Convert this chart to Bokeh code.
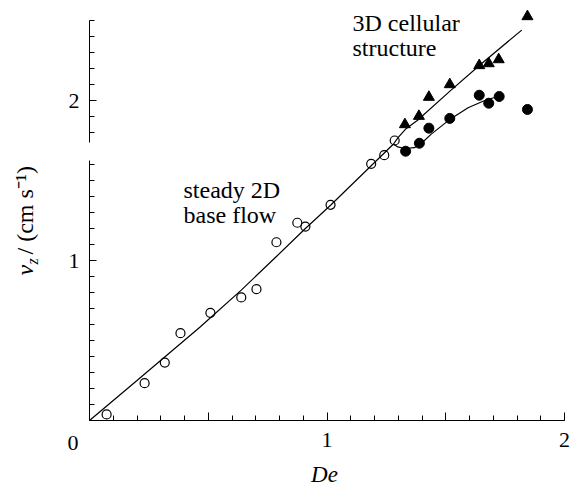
import math
from bokeh.plotting import figure
from bokeh.models import Range1d, FixedTicker, Label
from bokeh.embed import file_html
from bokeh.resources import INLINE

# ---------------- data ----------------
# steady 2D base flow (open circles)
open_x = [0.072, 0.232, 0.317, 0.383, 0.509, 0.639, 0.703, 0.787, 0.875, 0.909, 1.015, 1.186, 1.241, 1.285]
open_y = [0.038, 0.233, 0.362, 0.546, 0.673, 0.769, 0.821, 1.114, 1.236, 1.212, 1.348, 1.604, 1.658, 1.750]

# 3D cellular structure, filled circles
fill_x = [1.331, 1.389, 1.429, 1.517, 1.641, 1.681, 1.725, 1.844]
fill_y = [1.683, 1.733, 1.827, 1.888, 2.033, 1.983, 2.025, 1.944]

# 3D cellular structure, triangles
tri_x = [1.328, 1.387, 1.429, 1.517, 1.641, 1.681, 1.723, 1.844]
tri_y = [1.850, 1.902, 2.021, 2.100, 2.219, 2.231, 2.256, 2.525]

# fitted curves
base_curve_x = [0.0, 0.2, 0.467, 0.639, 0.787, 0.909, 1.015, 1.186, 1.28]
base_curve_y = [0.0, 0.25, 0.586, 0.815, 1.025, 1.200, 1.345, 1.592, 1.728]

tri_curve_x = [1.28, 1.30, 1.33, 1.38, 1.52, 1.65, 1.82]
tri_curve_y = [1.728, 1.77, 1.82, 1.875, 2.062, 2.23, 2.44]

fill_curve_x = [1.28, 1.298, 1.326, 1.368, 1.392, 1.439, 1.52, 1.594, 1.664, 1.729]
fill_curve_y = [1.728, 1.71, 1.70, 1.705, 1.725, 1.79, 1.885, 1.955, 2.0, 2.03]

# axes
x_major_ticks = [0, 0.5, 1, 1.5, 2]
x_tick_labels = {1: "1", 2: "2"}
x_minor_ticks = [round(0.1 * i, 1) for i in range(0, 21)]
y_major_ticks = [1, 2]
y_tick_labels = {1: "1", 2: "2"}
y_minor_ticks = [round(0.1 * i, 1) for i in range(1, 26) if i != 17]
y_spine_lower = (0.0, 1.625)
y_spine_upper = (1.7375, 2.5)

SERIF = "Liberation Serif"
TICK_FS = "22px"
TEXT_FS = "24px"

# frame covers the whole canvas; axes are pinned at x=0 / y=0
p = figure(width=572, height=487, output_backend="svg", toolbar_location=None,
           x_range=Range1d(-0.37474, 2.03368), y_range=Range1d(-0.41875, 2.625),
           min_border_left=0, min_border_right=0, min_border_top=0, min_border_bottom=0)
p.outline_line_color = None
p.grid.visible = False
p.background_fill_color = "white"
p.border_fill_color = "white"

xa = p.xaxis[0]
xa.fixed_location = 0
xa.ticker = FixedTicker(ticks=x_major_ticks, minor_ticks=x_minor_ticks)
xa.major_label_overrides = {t: x_tick_labels.get(t, "") for t in x_major_ticks}
xa.bounds = (0, 2)
xa.major_tick_in = 8
xa.major_tick_out = 0
xa.minor_tick_in = 5
xa.minor_tick_out = 0
xa.major_label_standoff = 12
xa.axis_line_color = "black"
xa.major_label_text_font = SERIF
xa.major_label_text_font_size = TICK_FS
xa.major_label_text_color = "black"

ya = p.yaxis[0]
ya.fixed_location = 0
ya.ticker = FixedTicker(ticks=y_major_ticks, minor_ticks=y_minor_ticks)
ya.major_label_overrides = {t: y_tick_labels.get(t, "") for t in y_major_ticks}
ya.bounds = (0, 2.5)
ya.axis_line_color = None
ya.major_tick_in = 7
ya.major_tick_out = 0
ya.minor_tick_in = 5
ya.minor_tick_out = 0
ya.major_label_standoff = 10
ya.major_label_text_font = SERIF
ya.major_label_text_font_size = TICK_FS
ya.major_label_text_color = "black"

# broken y spine
p.segment(x0=[0, 0], y0=[y_spine_lower[0], y_spine_upper[0]],
          x1=[0, 0], y1=[y_spine_lower[1], y_spine_upper[1]],
          line_color="black", line_width=1)

# curves
for cx, cy in [(base_curve_x, base_curve_y), (tri_curve_x, tri_curve_y), (fill_curve_x, fill_curve_y)]:
    p.line(cx, cy, line_color="black", line_width=1.2)

# markers
p.scatter(open_x, open_y, marker="circle", size=9, fill_color=None, line_color="black", line_width=1.2)
p.scatter(fill_x, fill_y, marker="circle", size=10, fill_color="black", line_color="black")
p.scatter(tri_x, tri_y, marker="triangle", size=11, fill_color="black", line_color="black")

H = 487

def lab(text, cx, cy, size=TEXT_FS, style="normal", angle=0.0, align="left"):
    # cx, cy: canvas pixel position (from the top-left corner) of the text's vertical middle
    p.add_layout(Label(x=cx, y=H - cy, x_units="screen", y_units="screen", text=text,
                       text_font=SERIF, text_font_size=size, text_font_style=style,
                       text_color="black", angle=angle, text_align=align, text_baseline="middle"))

# shared origin label
lab("0", 72.5, 442.5, size=TICK_FS, align="center")
# x axis title
lab("De", 324, 474, size="23px", style="italic", align="center")
# y axis title (rotated, composed: italic v, subscript z, units)
lab("v", 24, 275, style="italic", angle=math.pi / 2)
lab("z", 32, 264, size="16px", style="italic", angle=math.pi / 2)
lab("/ (cm s\u207b\u00b9)", 24, 254, angle=math.pi / 2)

# annotations
lab("steady 2D", 183, 189)
lab("base flow", 183, 214)
lab("3D cellular", 352, 22)
lab("structure", 352, 47)

open("out.html", "w").write(file_html(p, INLINE))
